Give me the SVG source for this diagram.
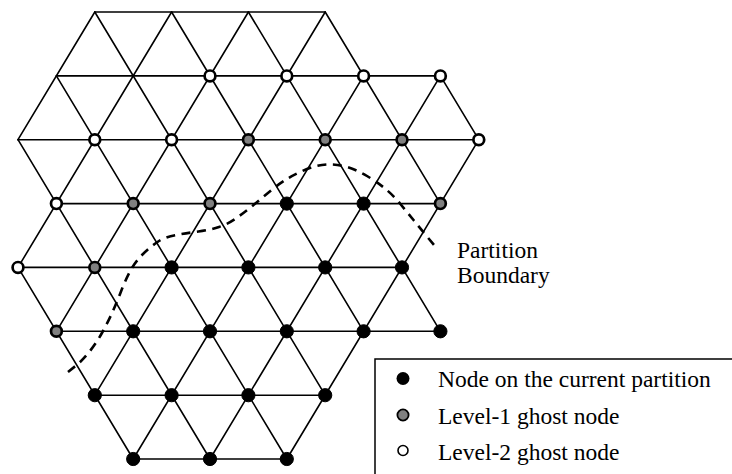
<svg xmlns="http://www.w3.org/2000/svg" width="732" height="474" viewBox="0 0 732 474">
  <style>
    .edge { stroke: #000; stroke-width: 1.6; fill: none; stroke-linecap: round; }
    .boundary { stroke: #000; stroke-width: 2.6; fill: none; stroke-dasharray: 9 6.5; }
    .own { fill: #000; stroke: #000; stroke-width: 1; }
    .g1 { fill: #808080; stroke: #000; stroke-width: 2.7; }
    .g2 { fill: #fff; stroke: #000; stroke-width: 2.7; }
    .label { font-family: "Liberation Serif", "Times New Roman", serif; font-size: 23.5px; fill: #000; }
    .frame { stroke: #000; stroke-width: 1.5; fill: none; }
  </style>
  <rect width="732" height="474" fill="#fff"/>

  <!-- triangular mesh edges -->
  <g id="connectors">
    <!-- horizontal rows -->
    <line class="edge" x1="94.8" y1="12" x2="325.2" y2="12"/>
    <line class="edge" x1="56.4" y1="75.9" x2="440.4" y2="75.9"/>
    <line class="edge" x1="18" y1="139.7" x2="478.8" y2="139.7"/>
    <line class="edge" x1="56.4" y1="203.6" x2="440.4" y2="203.6"/>
    <line class="edge" x1="18" y1="267.4" x2="402" y2="267.4"/>
    <line class="edge" x1="56.4" y1="331.3" x2="440.4" y2="331.3"/>
    <line class="edge" x1="94.8" y1="395.2" x2="325.2" y2="395.2"/>
    <line class="edge" x1="133.2" y1="459" x2="286.8" y2="459"/>
    <!-- down-right diagonals -->
    <line class="edge" x1="18" y1="267.4" x2="133.2" y2="459"/>
    <line class="edge" x1="18" y1="139.7" x2="210" y2="459"/>
    <line class="edge" x1="56.4" y1="75.9" x2="286.8" y2="459"/>
    <line class="edge" x1="94.8" y1="12" x2="325.2" y2="395.2"/>
    <line class="edge" x1="171.6" y1="12" x2="363.6" y2="331.3"/>
    <line class="edge" x1="248.4" y1="12" x2="440.4" y2="331.3"/>
    <line class="edge" x1="325.2" y1="12" x2="440.4" y2="203.6"/>
    <line class="edge" x1="440.4" y1="75.9" x2="478.8" y2="139.7"/>
    <!-- down-left diagonals -->
    <line class="edge" x1="94.8" y1="12" x2="18" y2="139.7"/>
    <line class="edge" x1="171.6" y1="12" x2="18" y2="267.4"/>
    <line class="edge" x1="248.4" y1="12" x2="56.4" y2="331.3"/>
    <line class="edge" x1="325.2" y1="12" x2="94.8" y2="395.2"/>
    <line class="edge" x1="363.6" y1="75.9" x2="133.2" y2="459"/>
    <line class="edge" x1="440.4" y1="75.9" x2="210" y2="459"/>
    <line class="edge" x1="478.8" y1="139.7" x2="286.8" y2="459"/>
  </g>

  <!-- partition boundary -->
  <g id="partition-boundary">
    <path class="boundary" d="M68,372 L75.5,366 Q83,360 90,351 Q97,342 102.5,332 Q108,322 112.5,312 Q117,302 121,291.5 Q125,281 130,271.5 Q135,262 142.5,254.5 Q150,247 157.5,242 Q165,237 176,235 Q187,233 198.5,231.5 Q210,230 219,227 Q228,224 236.5,218 Q245,212 253.5,205 Q262,198 271,190.5 Q280,183 288.5,178 Q297,173 307,169 Q317,165 327,164.5 Q337,164 347,167 Q357,170 367,176 Q377,182 385,188.5 Q393,195 400,203.5 Q407,212 413.5,220 Q420,228 427,236.5 L434,245"/>
    <text class="label" x="457" y="258">Partition</text>
    <text class="label" x="457" y="283">Boundary</text>
  </g>

  <!-- row 1 -->
  <g id="n1-5"><circle class="g2" cx="210" cy="75.9" r="5.4"/></g>
  <g id="n1-7"><circle class="g2" cx="286.8" cy="75.9" r="5.4"/></g>
  <g id="n1-9"><circle class="g2" cx="363.6" cy="75.9" r="5.4"/></g>
  <g id="n1-11"><circle class="g2" cx="440.4" cy="75.9" r="5.4"/></g>
  <!-- row 2 -->
  <g id="n2-2"><circle class="g2" cx="94.8" cy="139.7" r="5.4"/></g>
  <g id="n2-4"><circle class="g2" cx="171.6" cy="139.7" r="5.4"/></g>
  <g id="n2-6"><circle class="g1" cx="248.4" cy="139.7" r="5.4"/></g>
  <g id="n2-8"><circle class="g1" cx="325.2" cy="139.7" r="5.4"/></g>
  <g id="n2-10"><circle class="g1" cx="402" cy="139.7" r="5.4"/></g>
  <g id="n2-12"><circle class="g2" cx="478.8" cy="139.7" r="5.4"/></g>
  <!-- row 3 -->
  <g id="n3-1"><circle class="g2" cx="56.4" cy="203.6" r="5.4"/></g>
  <g id="n3-3"><circle class="g1" cx="133.2" cy="203.6" r="5.4"/></g>
  <g id="n3-5"><circle class="g1" cx="210" cy="203.6" r="5.4"/></g>
  <g id="n3-7"><circle class="own" cx="286.8" cy="203.6" r="6.6"/></g>
  <g id="n3-9"><circle class="own" cx="363.6" cy="203.6" r="6.6"/></g>
  <g id="n3-11"><circle class="g1" cx="440.4" cy="203.6" r="5.4"/></g>
  <!-- row 4 -->
  <g id="n4-0"><circle class="g2" cx="18" cy="267.4" r="5.4"/></g>
  <g id="n4-2"><circle class="g1" cx="94.8" cy="267.4" r="5.4"/></g>
  <g id="n4-4"><circle class="own" cx="171.6" cy="267.4" r="6.6"/></g>
  <g id="n4-6"><circle class="own" cx="248.4" cy="267.4" r="6.6"/></g>
  <g id="n4-8"><circle class="own" cx="325.2" cy="267.4" r="6.6"/></g>
  <g id="n4-10"><circle class="own" cx="402" cy="267.4" r="6.6"/></g>
  <!-- row 5 -->
  <g id="n5-1"><circle class="g1" cx="56.4" cy="331.3" r="5.4"/></g>
  <g id="n5-3"><circle class="own" cx="133.2" cy="331.3" r="6.6"/></g>
  <g id="n5-5"><circle class="own" cx="210" cy="331.3" r="6.6"/></g>
  <g id="n5-7"><circle class="own" cx="286.8" cy="331.3" r="6.6"/></g>
  <g id="n5-9"><circle class="own" cx="363.6" cy="331.3" r="6.6"/></g>
  <g id="n5-11"><circle class="own" cx="440.4" cy="331.3" r="6.6"/></g>
  <!-- row 6 -->
  <g id="n6-2"><circle class="own" cx="94.8" cy="395.2" r="6.6"/></g>
  <g id="n6-4"><circle class="own" cx="171.6" cy="395.2" r="6.6"/></g>
  <g id="n6-6"><circle class="own" cx="248.4" cy="395.2" r="6.6"/></g>
  <g id="n6-8"><circle class="own" cx="325.2" cy="395.2" r="6.6"/></g>
  <!-- row 7 -->
  <g id="n7-3"><circle class="own" cx="133.2" cy="459" r="6.6"/></g>
  <g id="n7-5"><circle class="own" cx="210" cy="459" r="6.6"/></g>
  <g id="n7-7"><circle class="own" cx="286.8" cy="459" r="6.6"/></g>

  <!-- legend -->
  <g id="legend">
    <path class="frame" d="M732,359 H375 V474"/>
    <circle cx="403" cy="378.5" r="6.5" fill="#000"/>
    <text class="label" x="438" y="387">Node on the current partition</text>
    <circle cx="403" cy="415" r="5.6" fill="#808080" stroke="#000" stroke-width="1.8"/>
    <text class="label" x="438" y="423.5">Level-1 ghost node</text>
    <circle cx="403" cy="450.5" r="5" fill="#fff" stroke="#000" stroke-width="1.6"/>
    <text class="label" x="438" y="460">Level-2 ghost node</text>
  </g>
</svg>
